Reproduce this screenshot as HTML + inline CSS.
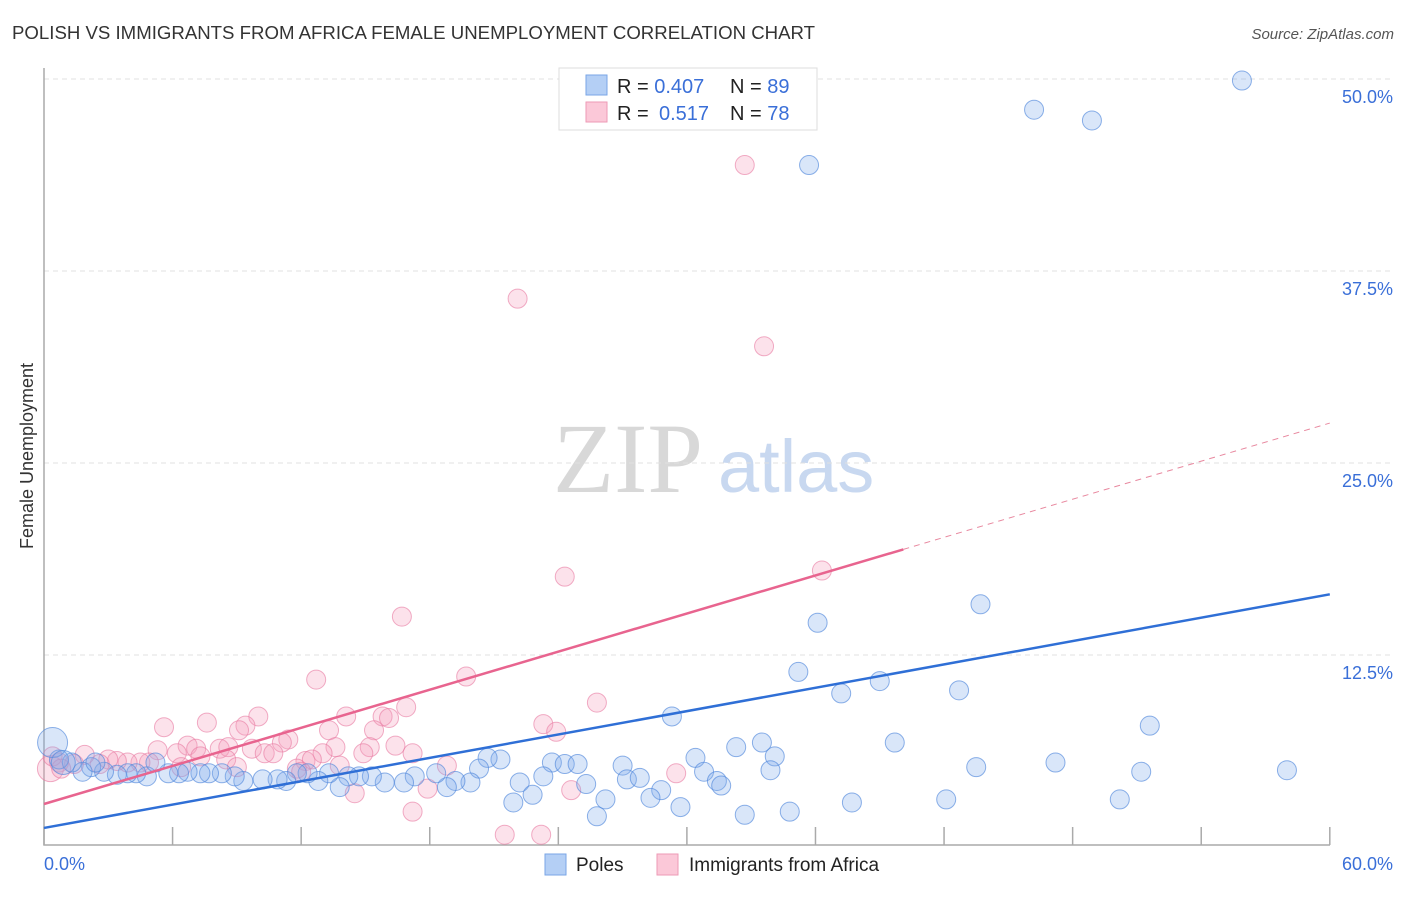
<!DOCTYPE html>
<html><head><meta charset="utf-8"><style>
body{margin:0;background:#fff;font-family:"Liberation Sans",sans-serif;}
</style></head><body>
<svg id="c" width="1406" height="892" xmlns="http://www.w3.org/2000/svg" font-family="Liberation Sans, sans-serif">
<text x="12" y="39" font-size="18" fill="#333" textLength="803" lengthAdjust="spacingAndGlyphs">POLISH VS IMMIGRANTS FROM AFRICA FEMALE UNEMPLOYMENT CORRELATION CHART</text>
<text x="1394" y="39" font-size="15" fill="#555" font-style="italic" text-anchor="end">Source: ZipAtlas.com</text>
<text x="553" y="492" font-size="100" fill="#d8d8d8" style="font-family:'Liberation Serif',serif">ZIP</text>
<text x="718" y="492" font-size="74" fill="#c8d8f0">atlas</text>
<text transform="translate(33,456) rotate(-90)" font-size="18" fill="#333" text-anchor="middle">Female Unemployment</text>
<g id="grid"></g><g id="pts"></g><g id="lines"></g>
<g>
<rect x="559" y="68" width="258" height="62" fill="#fff" stroke="#ddd"/>
<rect x="586" y="75" width="21" height="20" fill="#b4cff5" stroke="#7aa6e6"/>
<rect x="586" y="102" width="21" height="20" fill="#fbc8d8" stroke="#ee9ab6"/>
<text x="617" y="93" font-size="20" fill="#222">R = <tspan fill="#3a6fd8">0.407</tspan><tspan x="730">N = </tspan><tspan fill="#3a6fd8">89</tspan></text>
<text x="617" y="120" font-size="20" fill="#222">R = <tspan x="659" fill="#3a6fd8">0.517</tspan><tspan x="730">N = </tspan><tspan fill="#3a6fd8">78</tspan></text>
</g>
<g>
<rect x="545" y="854" width="21" height="21" fill="#b4cff5" stroke="#7aa6e6"/>
<text x="576" y="871" font-size="19" fill="#222">Poles</text>
<rect x="657" y="854" width="21" height="21" fill="#fbc8d8" stroke="#ee9ab6"/>
<text x="689" y="871" font-size="19" fill="#222">Immigrants from Africa</text>
</g>
</svg>
<script>
const yTicks=[12.5,25,37.5,50];
const xTickVals=[0,6,12,18,24,30,36,42,48,54,60];
const polesX=[55.9,46.2,48.9,35.7,43.7,36.1,35.2,39.0,37.2,42.7,29.3,51.6,39.7,33.5,32.3,34.1,30.4,47.2,43.5,58.0,51.2,33.9,30.8,31.4,31.6,27.0,27.2,27.8,28.8,28.3,29.7,26.2,25.8,32.7,34.8,37.7,42.1,50.2,23.7,24.3,24.9,21.3,20.7,20.3,23.3,25.3,22.2,22.8,21.9,19.9,19.2,18.8,18.3,17.3,16.8,15.9,15.3,14.7,14.2,13.8,13.3,12.8,12.3,11.8,11.3,10.9,10.2,9.3,8.9,8.3,7.7,7.3,6.7,6.3,5.8,4.8,4.3,3.9,3.4,2.8,2.2,1.8,1.3,0.7,0.4,0.9,5.2,2.4];
const polesY=[49.9,48.0,47.3,44.4,15.8,14.6,11.4,10.8,10.0,10.2,8.5,7.9,6.8,6.8,6.5,5.9,5.8,5.5,5.2,5.0,4.9,5.0,4.9,4.3,4.0,5.3,4.4,4.5,3.7,3.2,2.6,3.1,2.0,2.1,2.3,2.9,3.1,3.1,5.5,5.4,5.4,5.7,5.8,5.1,4.6,4.1,4.2,3.4,2.9,4.2,4.3,3.9,4.8,4.6,4.2,4.2,4.6,4.6,4.6,3.9,4.8,4.3,4.8,4.8,4.3,4.4,4.4,4.3,4.6,4.8,4.8,4.8,4.9,4.8,4.8,4.6,4.8,4.8,4.7,4.9,5.2,4.9,5.5,5.7,6.8,5.5,5.5,5.5];
const afrX=[32.7,22.1,33.6,36.3,24.3,16.7,12.7,19.7,25.8,16.9,15.8,16.1,14.1,10.0,7.6,5.6,23.3,23.9,13.3,15.4,9.4,9.1,11.4,11.1,6.7,7.1,8.2,8.6,9.7,13.6,15.2,16.4,5.3,6.2,7.3,10.3,10.7,13.0,14.9,17.2,8.5,12.2,12.5,13.8,18.8,11.8,12.0,4.9,4.5,3.9,3.4,3.0,2.6,1.9,1.4,0.7,0.3,0.4,0.8,29.5,24.6,17.9,14.5,17.2,21.5,23.2,9.0,6.4];
const afrY=[44.4,35.7,32.6,18.0,17.6,15.0,10.9,11.1,9.4,9.1,8.5,8.4,8.5,8.5,8.1,7.8,8.0,7.5,7.6,7.6,7.9,7.6,7.0,6.8,6.6,6.4,6.4,6.5,6.4,6.5,6.5,6.6,6.3,6.1,5.9,6.1,6.1,6.1,6.1,6.1,5.7,5.6,5.7,5.3,5.3,5.1,4.9,5.5,5.5,5.5,5.6,5.7,5.4,6.0,5.4,5.5,5.1,5.9,5.1,4.8,3.7,3.8,3.5,2.3,0.8,0.8,5.2,5.2];
const polesTrend=[1.24,16.45];
const afrTrend=[2.8,27.6];
const afrSolidEnd=40.1;
const NS='http://www.w3.org/2000/svg';
function X(v){return 44+v*21.43;}
function Y(v){return 847-v*15.36;}
function mk(tag,attrs,parent){const e=document.createElementNS(NS,tag);for(const k in attrs)e.setAttribute(k,attrs[k]);parent.appendChild(e);return e;}
const grid=document.getElementById('grid'),pts=document.getElementById('pts'),lines=document.getElementById('lines');
yTicks.forEach(t=>{
 const l=mk('line',{x1:44,x2:1394,y1:Y(t),y2:Y(t),stroke:'#e0e0e0','stroke-dasharray':'5,4'},grid);
 
 
 const tx=mk('text',{x:1393,y:Y(t)+24,'font-size':18,fill:'#3a6fd8','text-anchor':'end'},grid);
 tx.textContent=t.toFixed(1)+'%';
 
 
});
const ax=mk('path',{d:'M44 68 V845 H1330',stroke:'#aaa',fill:'none','stroke-width':1.5},grid);


xTickVals.forEach(t=>{
 const l=mk('line',{x1:X(t),x2:X(t),y1:827,y2:845,stroke:'#aaa','stroke-width':1.5},grid);
 
 
});
[[0,'0.0%','start',44],[60,'60.0%','end',1393]].forEach(a=>{
 const tx=mk('text',{x:a[3],y:870,'font-size':18,fill:'#3a6fd8','text-anchor':a[2]},grid);
 tx.textContent=a[1];
 
 
});
afrX.forEach((x,i)=>{
 const c=mk('circle',{cx:X(x),cy:Y(afrY[i]),r:i==56?13:9.5,fill:'rgba(244,160,188,0.3)',stroke:'rgba(232,120,160,0.6)','stroke-width':1},pts);
 
 
});
polesX.forEach((x,i)=>{
 const c=mk('circle',{cx:X(x),cy:Y(polesY[i]),r:(i==84?15:(i==85?12:9.5)),fill:'rgba(130,172,236,0.3)',stroke:'rgba(80,135,220,0.65)','stroke-width':1},pts);
 
 
});
let l1=mk('line',{x1:X(0),y1:Y(polesTrend[0]),x2:X(60),y2:Y(polesTrend[1]),stroke:'#2f6fd6','stroke-width':2.5},lines);


const ya=v=>afrTrend[0]+(afrTrend[1]-afrTrend[0])*v/60;
let l2=mk('line',{x1:X(0),y1:Y(ya(0)),x2:X(afrSolidEnd),y2:Y(ya(afrSolidEnd)),stroke:'#e8648f','stroke-width':2.5},lines);


let l3=mk('line',{x1:X(afrSolidEnd),y1:Y(ya(afrSolidEnd)),x2:X(60),y2:Y(ya(60)),stroke:'#e8889f','stroke-width':1,'stroke-dasharray':'6,5'},lines);


</script>
</body></html>
